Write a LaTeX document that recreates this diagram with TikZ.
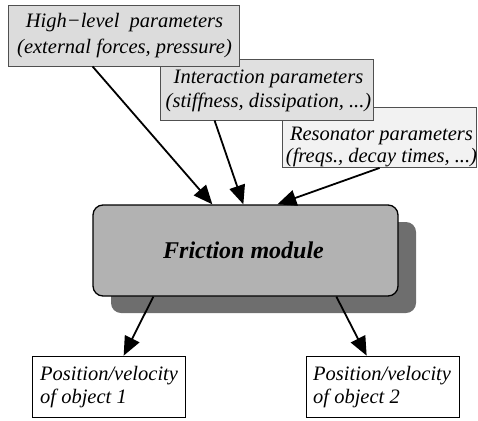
\documentclass[tikz,border=0pt]{standalone}
\usepackage{fontspec}
\setmainfont{Liberation Serif}
\usetikzlibrary{arrows.meta}
\definecolor{parA}{HTML}{DCDCDC}
\definecolor{parB}{HTML}{E0E0E0}
\definecolor{parC}{HTML}{F2F2F2}
\definecolor{modfill}{HTML}{B2B2B2}
\definecolor{modshadow}{HTML}{6E6E6E}
\definecolor{edgegray}{HTML}{505050}
\begin{document}
\begin{tikzpicture}[x=1pt,y=-1pt,
  parbox/.style={draw=edgegray, line width=0.9pt, inner sep=0pt},
  outbox/.style={draw=black, line width=0.7pt, fill=white, inner sep=0pt,
    minimum width=153pt, minimum height=61pt},
  boxtext/.style={inner sep=0pt, anchor=base, font=\fontsize{20.5}{25}\selectfont\itshape},
  arr/.style={line width=1.8pt, -{Triangle[length=19pt,width=16pt]}}]
\useasboundingbox (0,0) rectangle (478,420);
% parameter boxes
\node[parbox, fill=parC, minimum width=194pt, minimum height=60pt] (rs) at (379,137.5) {};
\node[boxtext] (rst) at (381.5,140)
  {\begin{tabular}[t]{@{}c@{}}Resonator parameters\\[-3pt](freqs., decay times, ...)\end{tabular}};
\node[parbox, fill=parB, minimum width=213pt, minimum height=61pt] (ia) at (266.5,89.5) {};
\node[boxtext] (iat) at (268.5,83)
  {\begin{tabular}[t]{@{}c@{}}Interaction parameters\\[-1pt](stiffness, dissipation, ...)\end{tabular}};
\node[parbox, fill=parA, minimum width=231pt, minimum height=61pt] (hl) at (123.5,35.5) {};
\node[boxtext] (hlt) at (124.5,28)
  {\begin{tabular}[t]{@{}c@{}}High−level\ \ parameters\\(external forces, pressure)\end{tabular}};
% friction module
\fill[modshadow, rounded corners=10pt] (111,222) rectangle (416,313);
\node[draw=black, line width=1.3pt, fill=modfill, rounded corners=10pt,
  minimum width=305pt, minimum height=91pt, inner sep=0pt] (fm) at (245.5,250.5) {};
\node[inner sep=0pt, anchor=base, font=\fontsize{24}{28}\selectfont\bfseries\itshape]
  (fmt) at (243.5,258) {Friction module};
% outputs
\node[outbox] (o1) at (108.5,386.5) {};
\node[boxtext, anchor=base west] (o1t) at (40,380)
  {\begin{tabular}[t]{@{}l@{}}Position/velocity\\[-2pt]of object 1\end{tabular}};
\node[outbox] (o2) at (382.5,386.5) {};
\node[boxtext, anchor=base west] (o2t) at (313,380)
  {\begin{tabular}[t]{@{}l@{}}Position/velocity\\[-2pt]of object 2\end{tabular}};
% connectors
\draw[arr] ([xshift=85pt]hl.south west) -- ([xshift=120pt]fm.north west);
\draw[arr] ([xshift=55pt]ia.south west) -- ([xshift=151pt]fm.north west);
\draw[arr] ([xshift=98pt]rs.south west) -- ([xshift=185pt]fm.north west);
\draw[arr] ([xshift=61pt]fm.south west) -- ([xshift=92pt]o1.north west);
\draw[arr] ([xshift=244pt]fm.south west) -- ([xshift=61pt]o2.north west);
\end{tikzpicture}
\end{document}
